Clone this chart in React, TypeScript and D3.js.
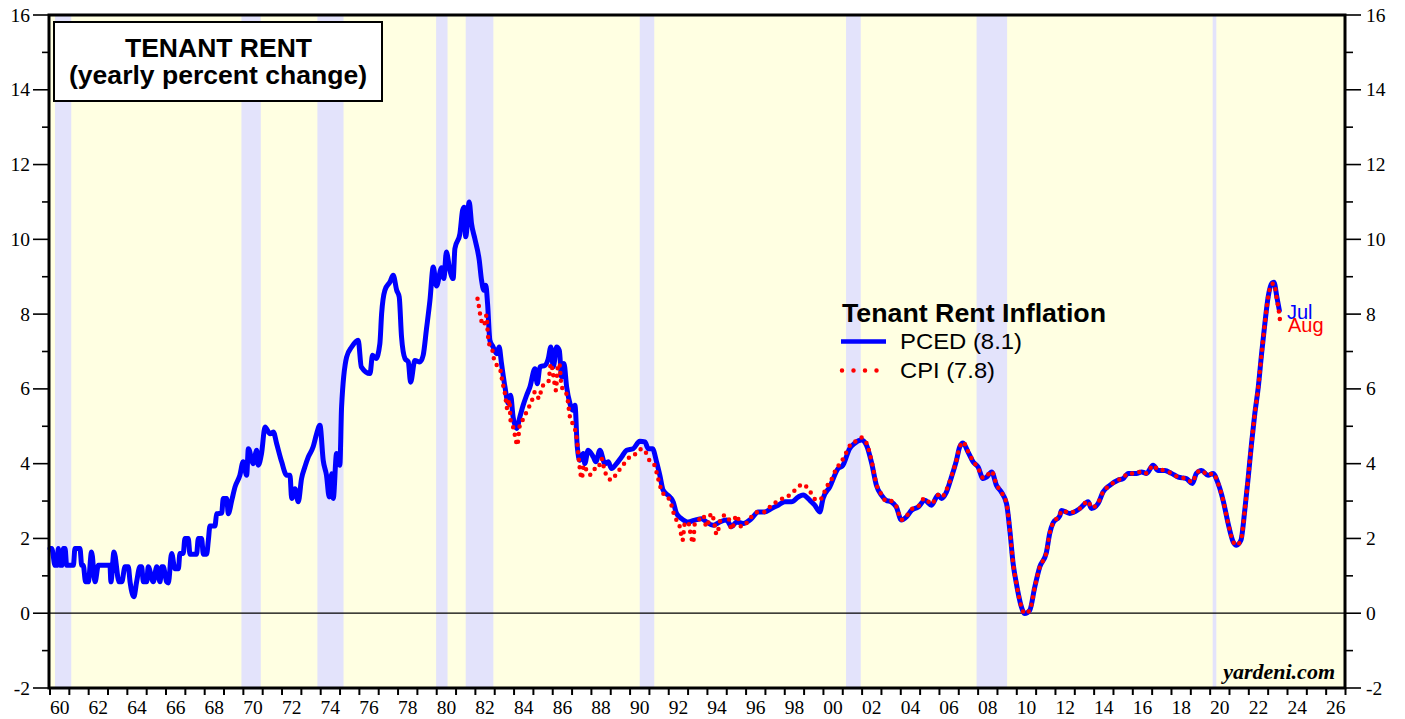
import React from 'react';
import * as d3 from 'd3';

// NBER recessions (decimal years)
const recessionStarts = [1960.26, 1969.9, 1973.83, 1979.97, 1981.5, 1990.5, 2001.17, 2007.92, 2020.13];
const recessionEnds = [1961.1, 1970.9, 1975.18, 1980.56, 1982.93, 1991.25, 2001.93, 2009.5, 2020.32];

// PCED tenant rent, yearly % change  [year, value]
const pced = [
    [1960.0, 1.73], [1960.09, 1.73], [1960.26, 1.28], [1960.36, 1.28], [1960.43, 1.73], [1960.52, 1.28],
    [1960.62, 1.28], [1960.69, 1.73], [1960.78, 1.73], [1960.86, 1.28], [1961.21, 1.28], [1961.29, 1.73],
    [1961.55, 1.73], [1961.64, 1.28], [1961.72, 1.28], [1961.84, 0.84], [1961.98, 0.84], [1962.15, 1.64],
    [1962.33, 0.84], [1962.5, 1.28], [1963.1, 1.28], [1963.15, 0.84], [1963.31, 1.64], [1963.57, 0.84],
    [1963.71, 0.84], [1963.88, 1.24], [1964.05, 1.24], [1964.14, 0.84], [1964.34, 0.44], [1964.48, 0.84],
    [1964.65, 1.24], [1964.74, 1.24], [1964.83, 0.84], [1965.0, 0.84], [1965.08, 1.24], [1965.34, 0.84],
    [1965.52, 1.24], [1965.69, 0.84], [1965.78, 1.24], [1965.86, 1.24], [1966.03, 0.84], [1966.12, 0.81],
    [1966.29, 1.6], [1966.46, 1.19], [1966.64, 1.19], [1966.72, 1.6], [1966.89, 1.6], [1966.98, 2.0],
    [1967.15, 2.0], [1967.24, 1.58], [1967.58, 1.58], [1967.67, 2.0], [1967.84, 2.0], [1967.93, 1.58],
    [1968.1, 1.58], [1968.19, 1.95], [1968.27, 2.33], [1968.53, 2.33], [1968.62, 2.66], [1968.88, 2.68],
    [1968.96, 3.07], [1969.14, 3.07], [1969.22, 2.66], [1969.4, 3.02], [1969.57, 3.38], [1969.82, 3.69],
    [1969.99, 4.05], [1970.17, 3.69], [1970.26, 4.4], [1970.51, 4.0], [1970.69, 4.36], [1970.77, 3.96],
    [1970.94, 4.27], [1971.12, 4.98], [1971.38, 4.8], [1971.55, 4.85], [1971.72, 4.54], [1971.98, 4.05],
    [1972.24, 3.69], [1972.41, 3.69], [1972.5, 3.07], [1972.67, 3.33], [1972.84, 2.98], [1973.01, 3.6],
    [1973.18, 3.91], [1973.36, 4.18], [1973.61, 4.45], [1973.79, 4.8], [1973.96, 5.03], [1974.13, 4.09],
    [1974.3, 3.69], [1974.44, 3.11], [1974.57, 3.73], [1974.65, 3.07], [1974.82, 4.27], [1974.99, 3.96],
    [1975.08, 5.52], [1975.34, 6.85], [1975.6, 7.12], [1975.94, 7.3], [1976.1, 6.59], [1976.55, 6.41],
    [1976.68, 6.9], [1976.86, 6.81], [1977.06, 7.21], [1977.15, 8.01], [1977.32, 8.64], [1977.58, 8.86],
    [1977.75, 9.04], [1977.93, 8.64], [1978.06, 8.46], [1978.18, 7.39], [1978.36, 6.81], [1978.53, 6.72],
    [1978.65, 6.18], [1978.87, 6.76], [1979.13, 6.72], [1979.3, 6.9], [1979.47, 7.6], [1979.65, 8.37],
    [1979.82, 9.26], [1979.99, 8.75], [1980.25, 9.24], [1980.37, 8.95], [1980.5, 9.66], [1980.68, 9.17],
    [1980.85, 8.95], [1980.94, 9.75], [1981.2, 10.15], [1981.34, 10.78], [1981.42, 10.86], [1981.5, 10.07],
    [1981.68, 11.0], [1981.8, 10.42], [1981.97, 10.02], [1982.2, 9.44], [1982.32, 8.9], [1982.44, 8.64],
    [1982.54, 8.77], [1982.63, 8.28], [1982.75, 7.3], [1982.92, 7.12], [1983.1, 6.94], [1983.23, 7.12],
    [1983.35, 6.68], [1983.53, 6.05], [1983.7, 5.61], [1983.82, 5.83], [1983.95, 5.25], [1984.13, 4.94],
    [1984.3, 5.25], [1984.47, 5.56], [1984.65, 5.83], [1984.82, 6.05], [1985.08, 6.54], [1985.2, 6.14],
    [1985.34, 6.59], [1985.6, 6.63], [1985.77, 6.81], [1985.9, 7.12], [1986.03, 6.59], [1986.2, 7.12],
    [1986.34, 7.03], [1986.46, 6.32], [1986.58, 6.68], [1986.72, 6.05], [1986.89, 5.61], [1987.03, 5.43],
    [1987.15, 5.56], [1987.27, 4.45], [1987.4, 4.09], [1987.58, 4.27], [1987.66, 4.0], [1987.83, 4.36],
    [1988.1, 4.18], [1988.23, 4.05], [1988.44, 4.36], [1988.7, 4.0], [1988.87, 4.05], [1989.04, 3.87],
    [1989.3, 4.0], [1989.56, 4.18], [1989.82, 4.36], [1990.16, 4.4], [1990.5, 4.6], [1990.77, 4.58],
    [1990.94, 4.4], [1991.16, 4.4], [1991.37, 4.05], [1991.54, 3.69], [1991.71, 3.29], [1992.06, 3.11],
    [1992.23, 2.98], [1992.4, 2.67], [1992.66, 2.53], [1993.0, 2.44], [1993.35, 2.49], [1993.7, 2.53],
    [1993.95, 2.44], [1994.3, 2.35], [1994.64, 2.44], [1994.99, 2.49], [1995.25, 2.31], [1995.5, 2.44],
    [1995.85, 2.4], [1996.28, 2.53], [1996.62, 2.71], [1996.97, 2.71], [1997.31, 2.8], [1997.66, 2.89],
    [1998.0, 2.98], [1998.35, 2.98], [1998.7, 3.11], [1998.95, 3.16], [1999.3, 3.02], [1999.55, 2.89],
    [1999.81, 2.71], [1999.98, 3.07], [2000.33, 3.38], [2000.76, 3.87], [2001.0, 3.95], [2001.35, 4.4],
    [2001.6, 4.54], [2001.97, 4.63], [2002.23, 4.49], [2002.5, 4.0], [2002.74, 3.42], [2003.0, 3.16],
    [2003.25, 3.02], [2003.5, 2.98], [2003.77, 2.84], [2004.03, 2.49], [2004.3, 2.58], [2004.55, 2.75],
    [2004.9, 2.84], [2005.24, 3.02], [2005.59, 2.89], [2005.93, 3.16], [2006.1, 3.07], [2006.36, 3.24],
    [2006.62, 3.64], [2006.88, 4.09], [2007.05, 4.45], [2007.22, 4.55], [2007.48, 4.31], [2007.74, 4.05],
    [2008.0, 3.91], [2008.26, 3.6], [2008.43, 3.64], [2008.7, 3.78], [2008.95, 3.42], [2009.2, 3.24],
    [2009.47, 2.93], [2009.64, 2.22], [2009.81, 1.33], [2009.98, 0.79], [2010.24, 0.17], [2010.41, -0.01],
    [2010.67, 0.08], [2010.93, 0.7], [2011.19, 1.24], [2011.53, 1.62], [2011.7, 2.13], [2011.88, 2.42],
    [2012.22, 2.6], [2012.31, 2.75], [2012.74, 2.67], [2013.26, 2.8], [2013.69, 2.98], [2013.86, 2.8],
    [2014.2, 2.93], [2014.46, 3.24], [2014.81, 3.42], [2015.24, 3.56], [2015.5, 3.6], [2015.76, 3.74],
    [2016.19, 3.74], [2016.45, 3.78], [2016.71, 3.74], [2017.05, 3.96], [2017.31, 3.82], [2017.66, 3.82],
    [2018.0, 3.74], [2018.35, 3.64], [2018.77, 3.6], [2019.08, 3.47], [2019.29, 3.74], [2019.55, 3.82],
    [2019.89, 3.69], [2020.15, 3.74], [2020.41, 3.47], [2020.67, 3.02], [2020.93, 2.4], [2021.19, 1.91],
    [2021.36, 1.82], [2021.59, 1.95], [2021.79, 2.75], [2021.97, 3.64], [2022.14, 4.54], [2022.31, 5.34],
    [2022.49, 6.05], [2022.66, 6.94], [2022.83, 7.75], [2023.0, 8.46], [2023.18, 8.82], [2023.3, 8.85],
    [2023.45, 8.46], [2023.58, 8.1]
];

// CPI rent of primary residence, yearly % change  [year, value]
const cpi = [
    [1982.11, 8.41], [1982.2, 8.15], [1982.28, 7.88], [1982.44, 7.7], [1982.58, 7.97], [1982.63, 7.57],
    [1982.7, 7.21], [1982.84, 7.12], [1983.0, 6.72], [1983.27, 6.54], [1983.4, 6.18], [1983.53, 5.87],
    [1983.65, 5.47], [1983.76, 5.7], [1983.82, 5.16], [1983.95, 4.98], [1984.08, 4.67], [1984.16, 4.49],
    [1984.3, 5.03], [1984.5, 5.21], [1984.68, 5.43], [1984.9, 5.65], [1985.08, 5.92], [1985.3, 5.74],
    [1985.42, 6.01], [1985.6, 6.14], [1985.77, 6.18], [1985.91, 6.68], [1986.03, 6.36], [1986.17, 5.96],
    [1986.24, 6.5], [1986.34, 6.68], [1986.46, 6.05], [1986.63, 5.96], [1986.75, 5.78], [1986.89, 5.25],
    [1987.03, 5.07], [1987.2, 4.8], [1987.27, 4.54], [1987.37, 4.0], [1987.5, 3.6], [1987.61, 3.96],
    [1987.75, 3.82], [1987.92, 3.7], [1988.1, 3.85], [1988.35, 3.87], [1988.52, 4.14], [1988.7, 3.78],
    [1989.04, 3.56], [1989.3, 3.74], [1989.56, 3.91], [1989.82, 4.09], [1990.08, 4.22], [1990.33, 4.27],
    [1990.6, 4.4], [1990.8, 4.31], [1991.0, 4.09], [1991.26, 3.96], [1991.43, 3.64], [1991.6, 3.33],
    [1991.77, 3.16], [1992.06, 3.02], [1992.23, 2.71], [1992.4, 2.49], [1992.57, 2.31], [1992.71, 1.95],
    [1992.83, 2.4], [1993.0, 2.44], [1993.14, 2.09], [1993.26, 1.88], [1993.35, 2.4], [1993.61, 2.53],
    [1993.78, 2.62], [1993.95, 2.31], [1994.21, 2.67], [1994.33, 2.49], [1994.47, 2.11], [1994.73, 2.58],
    [1994.9, 2.62], [1995.07, 2.58], [1995.25, 2.24], [1995.5, 2.62], [1995.76, 2.31], [1996.02, 2.41],
    [1996.28, 2.58], [1996.62, 2.71], [1996.97, 2.71], [1997.31, 2.89], [1997.74, 3.02], [1998.0, 3.11],
    [1998.26, 3.16], [1998.52, 3.29], [1998.7, 3.38], [1998.95, 3.45], [1999.2, 3.33], [1999.38, 3.2],
    [1999.64, 3.02], [1999.9, 3.07], [2000.16, 3.38], [2000.4, 3.56], [2000.67, 3.87], [2000.93, 4.05],
    [2001.19, 4.31], [2001.45, 4.54], [2001.8, 4.63], [2001.97, 4.7], [2002.23, 4.55], [2002.5, 4.05],
    [2002.74, 3.45], [2003.0, 3.18], [2003.25, 3.0], [2003.5, 3.0], [2003.77, 2.86], [2004.03, 2.5],
    [2004.3, 2.6], [2004.55, 2.78], [2004.9, 2.86], [2005.24, 3.08], [2005.59, 2.92], [2005.93, 3.16],
    [2006.1, 3.1], [2006.36, 3.3], [2006.62, 3.66], [2006.88, 4.1], [2007.05, 4.45], [2007.22, 4.58],
    [2007.48, 4.33], [2007.74, 4.07], [2008.0, 3.88], [2008.26, 3.62], [2008.43, 3.66], [2008.7, 3.8],
    [2008.95, 3.44], [2009.2, 3.24], [2009.47, 2.93], [2009.64, 2.22], [2009.81, 1.33], [2009.98, 0.79],
    [2010.24, 0.17], [2010.41, -0.01], [2010.67, 0.08], [2010.93, 0.7], [2011.19, 1.24], [2011.53, 1.62],
    [2011.7, 2.13], [2011.88, 2.42], [2012.22, 2.62], [2012.31, 2.75], [2012.74, 2.69], [2013.26, 2.8],
    [2013.69, 3.0], [2013.86, 2.82], [2014.2, 2.95], [2014.46, 3.24], [2014.81, 3.42], [2015.24, 3.56],
    [2015.5, 3.62], [2015.76, 3.74], [2016.19, 3.74], [2016.45, 3.8], [2016.71, 3.74], [2017.05, 3.96],
    [2017.31, 3.84], [2017.66, 3.82], [2018.0, 3.74], [2018.35, 3.64], [2018.77, 3.6], [2019.08, 3.5],
    [2019.29, 3.74], [2019.55, 3.82], [2019.89, 3.69], [2020.15, 3.74], [2020.41, 3.47], [2020.67, 3.02],
    [2020.93, 2.4], [2021.19, 1.91], [2021.36, 1.82], [2021.59, 1.95], [2021.79, 2.75], [2021.97, 3.64],
    [2022.14, 4.54], [2022.31, 5.34], [2022.49, 6.05], [2022.66, 6.94], [2022.83, 7.75], [2023.0, 8.46],
    [2023.18, 8.8], [2023.3, 8.82], [2023.45, 8.4], [2023.56, 8.05], [2023.62, 7.8]
];

const yTicks = d3.range(-2, 17, 1);
const xYears = d3.range(1960, 2028, 1);
const legendTitle = 'Tenant Rent Inflation';
const legendLabels = ['PCED (8.1)', 'CPI (7.8)'];

const W = 1405;
const H = 719;
const SANS = 'Arial, "Liberation Sans", Helvetica, sans-serif';
const SERIF = '"Times New Roman", "Liberation Serif", Times, serif';

export default function App()
{
    let plot = {left: 49, right: 1345, top: 15, bottom: 688};

    let x = d3.scaleLinear().domain([1960, 2027]).range([50, 1345.5]);
    let y = d3.scaleLinear().domain([-2, 16]).range([plot.bottom, plot.top]);

    let line = d3.line()
        .x(function(d) { return x(d[0]); })
        .y(function(d) { return y(d[1]); })
        .curve(d3.curveMonotoneX);

    let bands = recessionStarts.map(function(s, i)
    {
        return (
            <rect key={i} x={x(s)} y={plot.top} width={x(recessionEnds[i]) - x(s)}
                  height={plot.bottom - plot.top} fill="#e3e3fb"/>
        );
    });

    let leftTicks = yTicks.map(function(v)
    {
        let major = v % 2 === 0;
        return (
            <g key={'l' + v}>
                <line x1={major ? 33 : 42} x2={plot.left} y1={y(v)} y2={y(v)} stroke="#000" strokeWidth={1.6}/>
                {major && <text x={30} y={y(v) + 6.5} textAnchor="end" fontFamily={SERIF} fontSize={19.5}>{v}</text>}
            </g>
        );
    });

    let rightTicks = yTicks.map(function(v)
    {
        let major = v % 2 === 0;
        return (
            <g key={'r' + v}>
                <line x1={plot.right} x2={major ? 1361 : 1353} y1={y(v)} y2={y(v)} stroke="#000" strokeWidth={1.6}/>
                {major && <text x={1366} y={y(v) + 6.5} textAnchor="start" fontFamily={SERIF} fontSize={19.5}>{v}</text>}
            </g>
        );
    });

    let bottomTicks = xYears.map(function(yr)
    {
        let label = yr % 2 === 0 && yr < 2027;
        return (
            <g key={'x' + yr}>
                <line x1={x(yr)} x2={x(yr)} y1={plot.bottom} y2={plot.bottom + 7} stroke="#000" strokeWidth={2}/>
                {label && <text x={x(yr + 0.5)} y={714} textAnchor="middle" fontFamily={SERIF} fontSize={19.5}>
                    {String(yr % 100).padStart(2, '0')}
                </text>}
            </g>
        );
    });

    return (
        <svg width={W} height={H} style={{position: 'absolute', left: 0, top: 0, background: '#fff'}}>
            <rect x={plot.left} y={plot.top} width={plot.right - plot.left} height={plot.bottom - plot.top} fill="#ffffe2"/>
            {bands}

            <line x1={plot.left} x2={plot.right} y1={y(0)} y2={y(0)} stroke="#000" strokeWidth={1.2}/>

            <path d={line(pced)} fill="none" stroke="#0000ff" strokeWidth={5} strokeLinejoin="round" strokeLinecap="round"/>
            <path d={line(cpi)} fill="none" stroke="#ff0000" strokeWidth={4.5} strokeDasharray="0 7.5" strokeLinecap="round"/>

            <rect x={plot.left} y={plot.top} width={plot.right - plot.left} height={plot.bottom - plot.top}
                  fill="none" stroke="#000" strokeWidth={3}/>
            {leftTicks}
            {rightTicks}
            {bottomTicks}

            <rect x={54} y={22} width={328} height={79} fill="#fff" stroke="#000" strokeWidth={2}/>
            <text x={218.5} y={57} textAnchor="middle" fontFamily={SANS} fontWeight="bold" fontSize={25}
                  textLength={187} lengthAdjust="spacingAndGlyphs">TENANT RENT</text>
            <text x={218} y={84} textAnchor="middle" fontFamily={SANS} fontWeight="bold" fontSize={25}
                  textLength={298} lengthAdjust="spacingAndGlyphs">(yearly percent change)</text>

            <text x={842} y={322} fontFamily={SANS} fontWeight="bold" fontSize={25}
                  textLength={264} lengthAdjust="spacingAndGlyphs">{legendTitle}</text>
            <line x1={841} x2={886} y1={341.5} y2={341.5} stroke="#0000ff" strokeWidth={4.5}/>
            <text x={900} y={349} fontFamily={SANS} fontSize={22}
                  textLength={122} lengthAdjust="spacingAndGlyphs">{legendLabels[0]}</text>
            <line x1={842} x2={877} y1={370.5} y2={370.5} stroke="#ff0000" strokeWidth={4.5} strokeDasharray="0 11.5" strokeLinecap="round"/>
            <text x={900} y={378} fontFamily={SANS} fontSize={22}
                  textLength={95} lengthAdjust="spacingAndGlyphs">{legendLabels[1]}</text>

            <text x={1287} y={319} fontFamily={SANS} fontSize={20} fill="#0000ff">Jul</text>
            <text x={1288} y={332} fontFamily={SANS} fontSize={20} fill="#ff0000">Aug</text>

            <text x={1335} y={679} textAnchor="end" fontFamily={SERIF} fontWeight="bold" fontStyle="italic" fontSize={22}>yardeni.com</text>
        </svg>
    );
}
